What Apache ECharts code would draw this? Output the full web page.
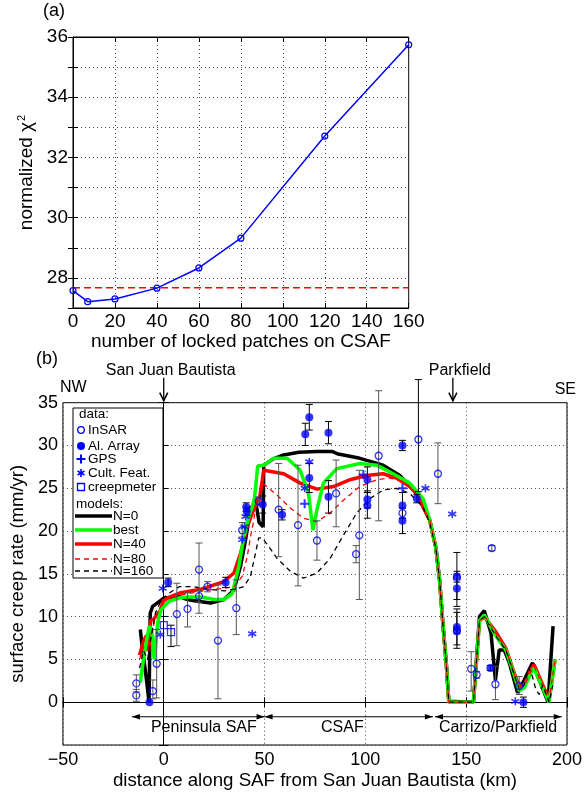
<!DOCTYPE html>
<html><head><meta charset="utf-8">
<script src="https://cdn.jsdelivr.net/npm/echarts/dist/echarts.min.js"></script>
<style>html,body{margin:0;padding:0;background:#fff}#c{width:585px;height:792px}</style>
</head><body><div id="c"></div>
<script>
const FONT = '"Liberation Sans", Arial, Helvetica, sans-serif';
const BLUE = '#0000ff';

// ---------- panel (a) ----------
const patches = [0, 7, 20, 40, 60, 80, 120, 160];
const chi2 = [27.58, 27.21, 27.30, 27.66, 28.33, 29.32, 32.71, 35.74];
const chi2Ref = 27.67;

// ---------- panel (b) data: [km, rate, low, high] ----------
const insar = [
 [-13.6, 2.2, 1.2, 3.2], [-13.6, 0.8, 0.1, 1.5], [-5.4, 1.3, 0.4, 2.6], [-3.5, 4.5, 0.5, 8.5],
 [6.5, 10.3, 6.6, 13.9], [11.8, 10.9, 8.8, 12.8], [17.5, 15.5, 10.4, 18.6], [17.5, 12.4, 11.7, 13.1],
 [21.7, 13.5, 12.9, 14.1], [26.9, 7.2, 0.4, 13.7], [36.0, 11.0, 7.9, 14.3], [38.9, 20.1, 19.3, 21.0],
 [47.1, 23.5, 23.0, 24.0], [57.0, 22.5, 17.0, 27.9], [66.6, 20.7, 13.6, 27.7], [76.0, 18.9, 16.6, 21.2],
 [85.5, 24.4, 20.5, 28.3], [95.4, 17.3, 16.3, 18.3], [97.0, 19.5, 12.0, 27.1], [106.6, 28.8, 21.2, 36.4],
 [118.4, 22.1, 21.5, 22.7], [126.3, 30.7, 24.6, 37.7], [136.0, 26.7, 23.2, 30.3], [145.4, 14.5, 14.0, 15.0],
 [145.4, 8.4, 8.0, 8.8], [152.5, 3.9, 1.3, 5.9], [155.2, 3.2, 2.8, 3.6], [162.7, 18.0, 17.7, 18.3],
 [164.5, 2.1, 0.3, 4.2], [176.3, 1.9, 0.9, 3.0]
];
const alArray = [
 [-7.1, 0.0, 0.0, 0.0], [2.2, 14.0, 13.5, 14.5], [30.7, 14.0, 13.4, 14.6], [40.9, 22.8, 22.3, 23.3],
 [41.2, 22.3, 21.8, 22.8], [49.1, 23.1, 22.1, 24.1], [58.7, 21.9, 21.3, 22.5], [70.2, 31.3, 30.0, 32.6],
 [72.2, 33.3, 31.8, 34.8], [72.2, 26.2, 24.5, 27.9], [81.7, 31.5, 30.2, 32.8], [81.7, 24.0, 22.1, 25.9],
 [101.0, 26.0, 24.5, 27.5], [101.0, 23.7, 22.7, 24.7], [101.0, 23.0, 21.5, 24.5], [118.4, 30.0, 29.4, 30.6],
 [118.4, 23.0, 21.5, 24.5], [118.4, 21.2, 19.7, 22.7], [125.5, 23.8, 23.3, 24.3], [145.4, 14.7, 12.0, 17.5],
 [145.4, 13.3, 11.2, 15.3], [145.4, 8.8, 6.7, 10.9], [145.4, 8.3, 6.3, 10.5], [162.0, 4.0, 3.7, 4.3],
 [178.4, 0.0, -0.6, 0.6]
];
const gps = [[69.9, 23.2], [99.0, 26.6], [118.4, 25.0]];
const cultFeat = [[-0.5, 13.3], [-1.7, 7.9], [40.6, 21.7], [40.1, 20.5], [38.9, 19.0], [43.9, 8.0],
 [72.2, 28.1], [69.9, 25.0], [129.8, 25.0], [143.1, 22.0], [174.4, 0.1]];
const creepmeter = [[0.0, 9.0, 9.0, 9.0], [3.6, 8.2, 6.5, 9.0]];

// ---------- models ----------
const modelN0 = [[-11.6,8.5],[-10.5,6],[-9.6,4.6],[-8,1.5],[-7.3,0],[-6.7,10.4],[-5.5,11.2],[-3.8,11.5],
 [0.2,12.2],[4.4,12.2],[6.9,12.4],[11.8,12.0],[16.7,11.8],[23.3,11.6],[29.9,12.0],[34.8,13.1],[38.1,15.9],
 [40.6,19.0],[43,22.5],[45.5,23.6],[47.3,21.0],[49.3,20.5],[49.6,27.7],[54,28.4],[59.5,28.9],[67,29.2],
 [76,29.3],[83.4,29.3],[86.6,29.0],[97.3,28.5],[108.8,27.7],[117.1,26.5],[125.3,24.4],[131.9,21.3],[135,18],
 [136.8,14.3],[138.5,9],[140.1,4.6],[141.4,0.1],[153.6,0],[156.6,10.0],[159,10.7],[162.3,8.1],[164.5,2.6],
 [166.4,6.1],[168.9,6.1],[171.4,4.6],[175.5,1.1],[178.8,2.6],[182.9,4.6],[186.2,2.6],[190.6,0],[193.1,8.9]];
const modelBest = [[-11.6,2.3],[-9.6,5.8],[-7.2,8.9],[-6,8.5],[-4.7,5.0],[-3,9.3],[-1.4,10.8],[2.7,11.8],
 [7.7,12.2],[11.8,12.3],[18.4,12.3],[25,12.0],[29.9,12.0],[34,12.7],[37.3,15.9],[39.7,19.3],[42.2,21.7],
 [43.9,22.8],[45,23.8],[46.6,27.6],[49.6,27.7],[54.5,28.5],[61.2,28.5],[67.7,27.1],[71.8,24.4],[74,20.1],
 [76,22.5],[79.2,25.6],[85.8,27.3],[97.3,27.9],[105.6,27.7],[113.8,26.7],[122,25.6],[128.6,23.8],
 [131.9,21.3],[135,18],[136.8,14.3],[138.5,9],[140.1,4.6],[141.4,0],[153.6,0],[156.6,9.5],[159,10.2],
 [164.8,7.7],[169.7,6.1],[173,3.8],[176.3,1.3],[178.8,1.7],[182.1,3.4],[183.7,4.0],[186.2,2.6],[191.1,0],[194.1,5.0]];
const modelN40 = [[-12,5.5],[-10,7.2],[-8.5,7.8],[-7.5,6],[-6.5,9.5],[-4.7,9.8],[-1.4,10.8],[0,12],[4,12.4],
 [8.5,12.8],[18.4,13.2],[29.9,14.1],[34.8,15.1],[38.1,17.4],[41.4,20.5],[43.9,22.1],[46,23.2],[47.5,23.8],
 [49.6,27.1],[59.5,26.7],[67.7,25.6],[76,24.9],[84.2,25.2],[92.4,26.0],[100.6,26.5],[108.8,26.7],[115.4,26.2],
 [122,25.2],[125.3,24.4],[131.9,21.3],[135,18],[136.8,14.3],[138.5,9],[140.1,4.6],[141.4,0],[153.6,0],
 [156.6,9.5],[159,10.0],[164.8,8.2],[169.7,6.3],[173,4.0],[176.3,1.8],[178.8,2.0],[182.1,3.8],[183.7,4.4],
 [186.2,3.0],[191.1,0.3],[194.1,5.0]];
const modelN80 = [[-12,5],[-10,6.5],[-8,6],[-6,8],[-4,10],[-1,11.5],[3,12.2],[8,12.5],[15,12.8],[22,13.1],
 [29.9,13.3],[34.8,13.5],[38.9,14.7],[41.4,17.0],[43,19.3],[44.7,21.3],[46.3,24],[47.5,23],[49.1,25.6],
 [56.2,24.2],[62.8,22.7],[69.3,21.5],[76,21.1],[82.5,22.1],[89.1,23.6],[97.3,25.2],[105.6,26.0],[112.1,26.2],
 [118.7,25.8],[125.3,24.4],[131.9,21.3],[135,18],[136.8,14.3],[138.5,9],[140.1,4.6],[141.4,0],[153.6,0],
 [156.6,9.5],[159,10.1],[164.8,8.0],[169.7,6.2],[173,3.9],[176.3,1.6],[178.8,1.9],[182.1,3.6],[183.7,4.2],
 [186.2,2.8],[191.1,0.2],[194.1,5.0]];
const modelN160 = [[-12,4],[-10,6],[-8,5],[-6,8],[-4,10.5],[-1,12],[3,12.8],[7.7,13.5],[15,13.5],[22,13.2],
 [30,13.0],[35,13.2],[39.7,13.5],[43,14.7],[45.5,17.4],[47.1,19.2],[48.8,19.2],[52.1,18.2],[56.2,16.8],
 [62.8,15.3],[69.3,14.5],[76,15.1],[82.5,16.8],[89.1,19.5],[95.7,22.1],[102.3,23.8],[108.8,24.8],[115.4,25.0],
 [122,24.4],[128.6,22.8],[131.9,21],[135,18],[136.8,14.3],[138.5,9],[140.1,4.6],[141.4,0],[153.6,0],
 [156.6,9.5],[159,10],[164.8,7.7],[169.7,6.1],[173,3.8],[176.3,1.5],[178.8,2.0],[181,4],[182.9,3.0],
 [184.5,1.5],[186.2,0.9],[188,2],[191.1,0],[193,2]];

// ---------- annotations ----------
const sectionNames = ['Peninsula SAF', 'CSAF', 'Carrizo/Parkfield'];
const sectionStart = [-15.8, 50.0, 134.5];
const sectionEnd = [50.0, 133.5, 197.4];
const sectionLabelKm = [19.9, 88.6, 165.8];
const sectionArrowRate = -1.7;
const sectionLabelRate = -3.0;
const townNames = ['San Juan Bautista', 'Parkfield'];
const townKm = [0, 143.4];

const legendData = ['InSAR', 'Al. Array', 'GPS', 'Cult. Feat.', 'creepmeter'];
const legendModels = ['N=0', 'best', 'N=40', 'N=80', 'N=160'];

// ---------- chart ----------
const chart = echarts.init(document.getElementById('c'), null, {renderer: 'canvas'});
const gridLine = {show: true, lineStyle: {color: '#444', type: [1, 3], width: 1}};
function xAx(grid, pos, min, max, interval, fs, name, gap, labels, margin, nfs) {
  return {type: 'value', gridIndex: grid, position: pos, min, max, interval,
    axisLine: {show: true, lineStyle: {color: '#000', width: 1}},
    axisTick: {show: true, inside: true, length: 5, lineStyle: {color: '#000'}},
    axisLabel: {show: labels, color: '#000', fontFamily: FONT, fontSize: fs, margin: margin || 6,
      formatter: v => v < 0 ? '\u2212' + Math.abs(v) : String(v)},
    splitLine: labels ? gridLine : {show: false},
    name: labels ? name : '', nameLocation: 'middle', nameGap: gap,
    nameTextStyle: {color: '#000', fontFamily: FONT, fontSize: nfs || fs}};
}
function yAx(grid, pos, min, max, interval, fs, labels, fmt) {
  return {type: 'value', gridIndex: grid, position: pos, min, max, interval,
    axisLine: {show: true, lineStyle: {color: '#000', width: 1}},
    axisTick: {show: true, inside: true, length: 5, lineStyle: {color: '#000'}},
    axisLabel: {show: labels, color: '#000', fontFamily: FONT, fontSize: fs, margin: 5, formatter: fmt},
    splitLine: labels ? gridLine : {show: false}};
}

const yA0 = yAx(0, 'left', 27, 36, 1, 19, true, v => (v % 2 === 0 ? String(v) : ''));
yA0.name = '{t|normalized χ}{s|2}';
yA0.nameLocation = 'middle';
yA0.nameGap = 22;
yA0.nameTextStyle = {color: '#000', fontFamily: FONT, fontSize: 19,
  rich: {t: {fontFamily: FONT, fontSize: 19, color: '#000'},
         s: {fontFamily: FONT, fontSize: 11, color: '#000', verticalAlign: 'top', padding: [0, 0, 8, 1]}}};
const yA2 = yAx(1, 'left', -5, 35, 5, 18, true, v => (v < 0 ? '' : String(v)));
yA2.name = 'surface creep rate (mm/yr)';
yA2.nameLocation = 'middle';
yA2.nameGap = 27;
yA2.nameTextStyle = {color: '#000', fontFamily: FONT, fontSize: 18.5};

function errBars(rows, color) {
  return {type: 'custom', xAxisIndex: 2, yAxisIndex: 2, z: 4, clip: false, silent: true,
    data: rows.filter(r => r[3] > r[2]).map(r => [r[0], r[2], r[3]]),
    renderItem: (params, api) => {
      const x = api.value(0), a = api.coord([x, api.value(1)]), b = api.coord([x, api.value(2)]);
      const w = 3.5;
      const st = {stroke: (b[1] < params.coordSys.y - 15) ? '#000' : color, lineWidth: 1};
      return {type: 'group', children: [
        {type: 'line', shape: {x1: a[0], y1: a[1], x2: b[0], y2: b[1]}, style: st},
        {type: 'line', shape: {x1: a[0] - w, y1: a[1], x2: a[0] + w, y2: a[1]}, style: st},
        {type: 'line', shape: {x1: b[0] - w, y1: b[1], x2: b[0] + w, y2: b[1]}, style: st}]};
    }};
}
function modelLine(name, pts, color, width, dash, z) {
  return {type: 'line', name, xAxisIndex: 2, yAxisIndex: 2, data: pts, symbol: 'none', showSymbol: false,
    z, lineStyle: {color, width, type: dash}, silent: true};
}
const PLUS = 'path://M5,0L5,10M0,5L10,5';
const STAR = 'path://M5,0L5,10M0.7,2.5L9.3,7.5M0.7,7.5L9.3,2.5';

const series = [
  {type: 'line', xAxisIndex: 0, yAxisIndex: 0, data: [[0, chi2Ref], [160, chi2Ref]], symbol: 'none', z: 2,
    lineStyle: {color: '#ff0000', width: 1.5, type: [7, 4]}},
  {type: 'line', xAxisIndex: 0, yAxisIndex: 0, data: patches.map((p, i) => [p, chi2[i]]), z: 3,
    symbol: 'circle', symbolSize: 6, lineStyle: {color: BLUE, width: 1.5},
    itemStyle: {color: 'rgba(0,0,0,0)', borderColor: BLUE, borderWidth: 1.2}},
  modelLine('N=0', modelN0, '#000000', 3.5, 'solid', 2),
  modelLine('N=40', modelN40, '#ff0000', 3.5, 'solid', 2),
  modelLine('best', modelBest, '#00ff00', 3.5, 'solid', 2),
  modelLine('N=80', modelN80, '#ff0000', 1.3, [5, 4], 3),
  modelLine('N=160', modelN160, '#000000', 1.3, [5, 4], 3),
  errBars(insar, '#555555'),
  errBars(alArray, '#000000'),
  errBars(creepmeter, '#000000'),
  {type: 'scatter', xAxisIndex: 2, yAxisIndex: 2, z: 6, data: insar.map(r => [r[0], r[1]]), symbol: 'circle',
    symbolSize: 7, itemStyle: {color: 'rgba(0,0,0,0)', borderColor: BLUE, borderWidth: 1.3}},
  {type: 'scatter', xAxisIndex: 2, yAxisIndex: 2, z: 6, data: alArray.map(r => [r[0], r[1]]), symbol: 'circle',
    symbolSize: 8, itemStyle: {color: BLUE}},
  {type: 'scatter', xAxisIndex: 2, yAxisIndex: 2, z: 6, data: gps, symbol: PLUS, symbolSize: 9,
    itemStyle: {color: 'rgba(0,0,0,0)', borderColor: BLUE, borderWidth: 2}},
  {type: 'scatter', xAxisIndex: 2, yAxisIndex: 2, z: 6, data: cultFeat, symbol: STAR, symbolSize: 8,
    itemStyle: {color: 'rgba(0,0,0,0)', borderColor: BLUE, borderWidth: 1.6}},
  {type: 'scatter', xAxisIndex: 2, yAxisIndex: 2, z: 6, data: creepmeter.map(r => [r[0], r[1]]), symbol: 'rect',
    symbolSize: 7, itemStyle: {color: 'rgba(0,0,0,0)', borderColor: BLUE, borderWidth: 1.3}},
  // section arrows
  {type: 'custom', xAxisIndex: 2, yAxisIndex: 2, z: 5, silent: true, clip: false,
    data: sectionStart.map((s, i) => [s, sectionEnd[i], sectionArrowRate]),
    renderItem: (params, api) => {
      const a = api.coord([api.value(0), api.value(2)]), b = api.coord([api.value(1), api.value(2)]);
      const L = 8, H = 2.8;
      return {type: 'group', children: [
        {type: 'line', shape: {x1: a[0], y1: a[1], x2: b[0], y2: b[1]}, style: {stroke: '#000', lineWidth: 1}},
        {type: 'polygon', shape: {points: [[a[0], a[1]], [a[0] + L, a[1] - H], [a[0] + L, a[1] + H]]}, style: {fill: '#000'}},
        {type: 'polygon', shape: {points: [[b[0], b[1]], [b[0] - L, b[1] - H], [b[0] - L, b[1] + H]]}, style: {fill: '#000'}}]};
    }},
  {type: 'custom', xAxisIndex: 2, yAxisIndex: 2, z: 5, silent: true, clip: false,
    data: sectionLabelKm.map((k, i) => [k, sectionLabelRate, i]),
    renderItem: (params, api) => {
      const p = api.coord([api.value(0), api.value(1)]);
      return {type: 'text', x: p[0], y: p[1], style: {text: sectionNames[api.value(2)], fontFamily: FONT,
        fontSize: 16, fill: '#000', align: 'center', verticalAlign: 'middle'}};
    }},
  // town arrows above the plot
  {type: 'custom', xAxisIndex: 2, yAxisIndex: 2, z: 5, silent: true, clip: false,
    data: townKm.map((k, i) => [k, 35, i]),
    renderItem: (params, api) => {
      const p = api.coord([api.value(0), api.value(1)]);
      const x = p[0], y = p[1];
      return {type: 'group', children: [
        {type: 'line', shape: {x1: x, y1: y - 25, x2: x, y2: y - 2}, style: {stroke: '#000', lineWidth: 1.3}},
        {type: 'polyline', shape: {points: [[x - 4, y - 10], [x, y - 2], [x + 4, y - 10]]}, style: {stroke: '#000', lineWidth: 1.5, fill: null}},
        {type: 'text', x: x + 7, y: y - 32, style: {text: townNames[api.value(2)], fontFamily: FONT, fontSize: 16,
          fill: '#000', align: 'center', verticalAlign: 'middle'}}]};
    }}
];

// legend drawn as graphic
const lg = [];
const LX = 73, LY = 408;
lg.push({type: 'rect', shape: {x: LX, y: LY, width: 90, height: 170}, style: {fill: '#fff', stroke: '#000', lineWidth: 1}, z: 100});
const T = (t, x, y) => ({type: 'text', x, y, style: {text: t, fontFamily: FONT, fontSize: 13.5, fill: '#000', verticalAlign: 'middle'}, z: 101});
lg.push(T('data:', 79, 414));
const dataY = [430, 446, 459, 473, 487];
const mk = [
  y => ({type: 'circle', shape: {cx: 81, cy: y, r: 3.3}, style: {fill: null, stroke: BLUE, lineWidth: 1.3}, z: 101}),
  y => ({type: 'circle', shape: {cx: 81, cy: y, r: 4}, style: {fill: BLUE}, z: 101}),
  y => ({type: 'group', z: 101, children: [
    {type: 'line', shape: {x1: 76.5, y1: y, x2: 85.5, y2: y}, style: {stroke: BLUE, lineWidth: 2}, z: 101},
    {type: 'line', shape: {x1: 81, y1: y - 4.5, x2: 81, y2: y + 4.5}, style: {stroke: BLUE, lineWidth: 2}, z: 101}]}),
  y => ({type: 'group', z: 101, children: [
    {type: 'line', shape: {x1: 81, y1: y - 4, x2: 81, y2: y + 4}, style: {stroke: BLUE, lineWidth: 1.6}, z: 101},
    {type: 'line', shape: {x1: 77.5, y1: y - 2, x2: 84.5, y2: y + 2}, style: {stroke: BLUE, lineWidth: 1.6}, z: 101},
    {type: 'line', shape: {x1: 77.5, y1: y + 2, x2: 84.5, y2: y - 2}, style: {stroke: BLUE, lineWidth: 1.6}, z: 101}]}),
  y => ({type: 'rect', shape: {x: 77.5, y: y - 3.5, width: 7, height: 7}, style: {fill: null, stroke: BLUE, lineWidth: 1.3}, z: 101})
];
legendData.forEach((t, i) => { lg.push(mk[i](dataY[i])); lg.push(T(t, 88, dataY[i])); });
lg.push(T('models:', 76, 504));
const modelY = [516, 530, 544, 559, 571];
const modelStyle = [['#000', 3.5, null], ['#00ff00', 3.5, null], ['#ff0000', 3.5, null], ['#ff0000', 1.3, [5, 4]], ['#000', 1.3, [5, 4]]];
legendModels.forEach((t, i) => {
  lg.push({type: 'line', shape: {x1: 75, y1: modelY[i], x2: 112, y2: modelY[i]},
    style: {stroke: modelStyle[i][0], lineWidth: modelStyle[i][1], lineDash: modelStyle[i][2]}, z: 101});
  lg.push(T(t, 113, modelY[i]));
});
const txt = (t, x, y, fs, align) => ({type: 'text', x, y, style: {text: t, fontFamily: FONT, fontSize: fs, fill: '#000', align: align || 'left', verticalAlign: 'middle'}});

const option = {
  animation: false,
  backgroundColor: '#fff',
  grid: [
    {left: 73, top: 37, width: 335.7, height: 271, show: true, borderColor: '#000', borderWidth: 1, backgroundColor: '#fff'},
    {left: 62, top: 402.7, width: 506, height: 342.3, show: true, borderColor: '#000', borderWidth: 1, backgroundColor: '#fff'}
  ],
  xAxis: [
    xAx(0, 'bottom', 0, 160, 20, 19, 'number of locked patches on CSAF', 22, true, 4),
    xAx(0, 'top', 0, 160, 20, 19, '', 0, false),
    xAx(1, 'bottom', -50, 200, 50, 18, 'distance along SAF from San Juan Bautista (km)', 26, true, 6, 18.7),
    xAx(1, 'top', -50, 200, 50, 18, '', 0, false)
  ],
  yAxis: [
    yA0,
    yAx(0, 'right', 27, 36, 1, 19, false),
    yA2,
    yAx(1, 'right', -5, 35, 5, 18, false)
  ],
  series,
  graphic: [
    txt('(a)', 43, 11, 18),
    txt('(b)', 36, 359, 18),
    txt('NW', 60, 388, 16),
    txt('SE', 576, 390, 16, 'right'),
    ...lg
  ]
};
chart.setOption(option);
</script>
</body></html>
